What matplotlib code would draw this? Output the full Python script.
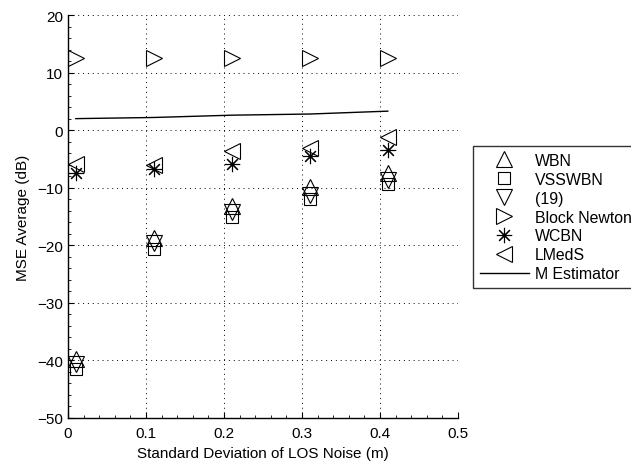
import numpy as np
import matplotlib.pyplot as plt
from matplotlib.ticker import MultipleLocator

plt.rcParams['font.family'] = ['Liberation Sans', 'DejaVu Sans']

# Donnees
sigma = [0.01, 0.11, 0.21, 0.31, 0.41]
wbn = [-39.7, -18.7, -13.2, -9.9, -7.5]
vsswbn = [-41.5, -20.6, -15.1, -11.9, -9.3]
eq19 = [-40.6, -19.6, -14.3, -11.2, -8.6]
block_newton = [12.5, 12.5, 12.5, 12.5, 12.5]
wcbn = [-7.4, -6.8, -5.9, -4.5, -3.4]
lmeds = [-5.9, -6.1, -3.6, -3.1, -1.2]
m_estimator = [2.0, 2.2, 2.6, 2.8, 3.3]

fig = plt.figure(figsize=(6.31, 4.64), dpi=100)
ax = fig.add_axes([0.1078, 0.097, 0.618, 0.8685])

mk = dict(linestyle='none', color='k', markerfacecolor='none', markeredgewidth=0.8)
ax.plot(sigma, wbn, marker='^', markersize=11, label='WBN', **mk)
ax.plot(sigma, vsswbn, marker='s', markersize=9, label='VSSWBN', **mk)
ax.plot(sigma, eq19, marker='v', markersize=11, label='(19)', **mk)
ax.plot(sigma, block_newton, marker='>', markersize=11, label='Block Newton', **mk)
ax.plot(sigma, wcbn, marker=(8, 2, 0), markersize=11, label='WCBN', **mk)
ax.plot(sigma, lmeds, marker='<', markersize=11, label='LMedS', **mk)
ax.plot(sigma, m_estimator, color='k', linewidth=1.0, label='M Estimator')

ax.set_xlim(0, 0.5)
ax.set_ylim(-50, 20)
ax.set_xticks([0, 0.1, 0.2, 0.3, 0.4, 0.5])
ax.set_xticklabels(['0', '0.1', '0.2', '0.3', '0.4', '0.5'])
ax.set_yticks(np.arange(-50, 21, 10))
ax.xaxis.set_minor_locator(MultipleLocator(0.02))
ax.yaxis.set_minor_locator(MultipleLocator(2))
ax.tick_params(which='both', direction='in', top=False, right=False, labelsize=11)
ax.tick_params(which='major', length=4, width=0.8)
ax.tick_params(axis='x', which='major', pad=6)
ax.tick_params(which='minor', length=2, width=0.6)
ax.grid(True, which='major', linestyle=(0, (1, 4)), color='k', linewidth=0.7)
ax.spines['top'].set_visible(False)
ax.spines['right'].set_visible(False)
ax.spines['left'].set_linewidth(1.0)
ax.spines['bottom'].set_linewidth(1.0)

ax.set_xlabel('Standard Deviation of LOS Noise (m)', fontsize=11, labelpad=4)
ax.set_ylabel('MSE Average (dB)', fontsize=11, labelpad=5)

leg = fig.legend(loc='upper left', bbox_to_anchor=(473 / 631, 1 - 147 / 464),
                 fontsize=11.4, frameon=True, fancybox=False, edgecolor='k',
                 borderpad=0.42, labelspacing=0.25, handlelength=3.1,
                 handletextpad=0.4, borderaxespad=0)
leg.get_frame().set_linewidth(1.0)

fig.savefig('out.png', dpi=100)
